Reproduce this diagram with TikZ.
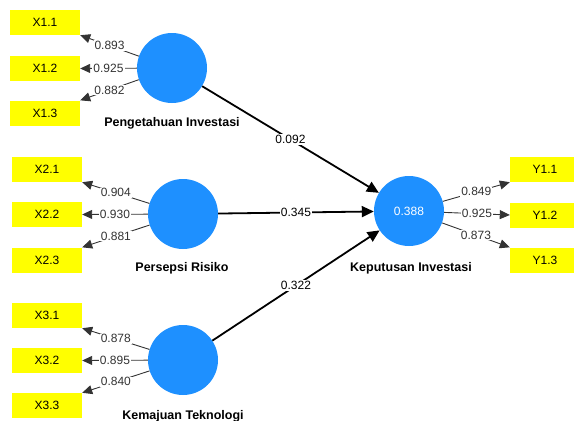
\documentclass[tikz,border=0pt]{standalone}
\usepackage{fontspec}
\setmainfont{Liberation Sans}
\usetikzlibrary{arrows.meta}
\definecolor{latblue}{RGB}{30,144,255}
\definecolor{indyel}{RGB}{255,255,0}
\begin{document}
\begin{tikzpicture}[x=1pt,y=-1pt,
 ind/.style={fill=indyel, minimum width=70pt, minimum height=25pt, inner sep=0pt, font=\fontsize{12}{14}\selectfont},
 lat/.style={circle, fill=latblue, minimum size=70pt, inner sep=0pt, text=white, font=\fontsize{12}{14}\selectfont},
 latlab/.style={font=\bfseries\fontsize{12.5}{14}\selectfont},
 ld/.style={draw=black!80, line width=0.9pt, -{Triangle[length=10pt,width=9pt]}},
 sp/.style={draw=black, line width=1.8pt, -{Triangle[length=12pt,width=11pt]}},
 coef/.style={fill=white, inner sep=1pt, text=black!80, font=\fontsize{12}{14}\selectfont},
 scoef/.style={fill=white, inner sep=1pt, font=\fontsize{12}{14}\selectfont}]
\useasboundingbox (0,0) rectangle (574,421);
% indicators
\node[ind] (x11) at (45,22.5) {X1.1};
\node[ind] (x12) at (45,68.5) {X1.2};
\node[ind] (x13) at (45,113) {X1.3};
\node[ind] (x21) at (47,169.5) {X2.1};
\node[ind] (x22) at (47,214.5) {X2.2};
\node[ind] (x23) at (47,260) {X2.3};
\node[ind] (x31) at (47,315.5) {X3.1};
\node[ind] (x32) at (47,360.5) {X3.2};
\node[ind] (x33) at (47,405.5) {X3.3};
\node[ind] (y11) at (545,169.5) {Y1.1};
\node[ind] (y12) at (545,215) {Y1.2};
\node[ind] (y13) at (545,260) {Y1.3};
% latent variables
\node[lat] (c1) at (172,68) {};
\node[lat] (c2) at (183,214) {};
\node[lat] (c3) at (183,360) {};
\node[lat] (c4) at (409,211) {0.388};
\node[latlab] (l1) at (172,123) {Pengetahuan Investasi};
\node[latlab] (l2) at (182,268) {Persepsi Risiko};
\node[latlab] (l3) at (183,416) {Kemajuan Teknologi};
\node[latlab] (l4) at (411,268) {Keputusan Investasi};
% loadings
\draw[ld] (c1) -- (x11.south east) node[coef,midway] {0.893};
\draw[ld] (c1) -- (x12.east) node[coef,midway] {0.925};
\draw[ld] (c1) -- (x13.north east) node[coef,midway] {0.882};
\draw[ld] (c2) -- (x21.south east) node[coef,midway] {0.904};
\draw[ld] (c2) -- (x22.east) node[coef,midway] {0.930};
\draw[ld] (c2) -- (x23.north east) node[coef,midway] {0.881};
\draw[ld] (c3) -- (x31.south east) node[coef,midway] {0.878};
\draw[ld] (c3) -- (x32.east) node[coef,midway] {0.895};
\draw[ld] (c3) -- (x33.north east) node[coef,midway] {0.840};
\draw[ld] (c4) -- (y11.south west) node[coef,midway] {0.849};
\draw[ld] (c4) -- (y12.west) node[coef,midway] {0.925};
\draw[ld] (c4) -- (y13.north west) node[coef,midway] {0.873};
% structural paths
\draw[sp] (c1) -- (c4) node[scoef,midway] {0.092};
\draw[sp] (c2) -- (c4) node[scoef,midway] {0.345};
\draw[sp] (c3) -- (c4) node[scoef,midway] {0.322};
\end{tikzpicture}
\end{document}
